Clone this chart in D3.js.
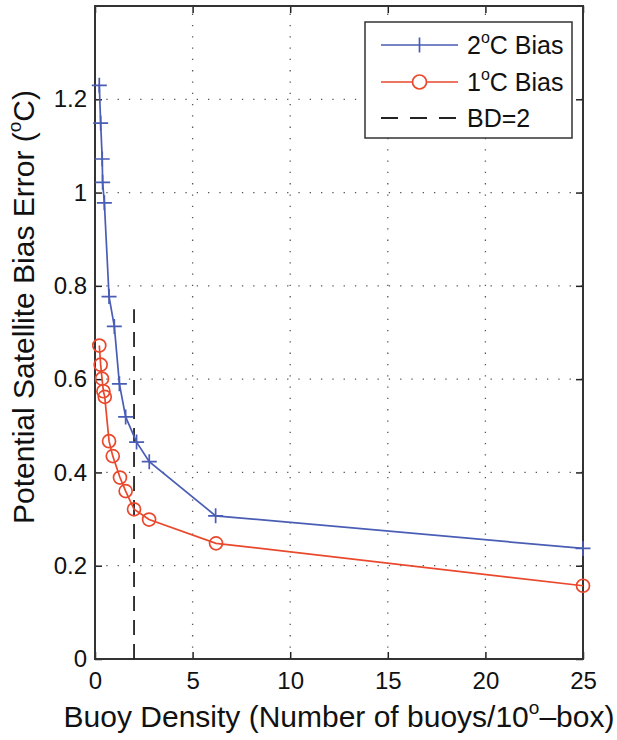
<!DOCTYPE html>
<html><head><meta charset="utf-8">
<script src="https://cdn.jsdelivr.net/npm/d3@7"></script>
<style>
body{margin:0;background:#fff;}
svg{display:block;font-family:"Liberation Sans",Arial,Helvetica,sans-serif;}
</style></head>
<body><svg id="c" width="617" height="740"></svg>
<script>
const xTicks=[0,5,10,15,20,25];
const yTicks=[0,0.2,0.4,0.6,0.8,1,1.2];
const bias2X=[0.22,0.29,0.37,0.39,0.48,0.72,0.99,1.25,1.57,2.13,2.78,6.18,25];
const bias2Y=[1.23,1.149,1.072,1.022,0.978,0.777,0.713,0.590,0.519,0.465,0.423,0.307,0.237];
const bias1X=[0.22,0.29,0.36,0.43,0.50,0.72,0.91,1.28,1.57,2.0,2.77,6.2,25];
const bias1Y=[0.672,0.631,0.601,0.574,0.562,0.467,0.435,0.389,0.360,0.321,0.299,0.248,0.157];
const bdX=[2,2];
const bdY=[0,0.75];
const seriesNames=["2","1","BD=2"];

const svg=d3.select("#c");
const L=95,R=583,T=6,B=659;
const x=d3.scaleLinear().domain([0,25]).range([L,R]);
const y=d3.scaleLinear().domain([0,1.4]).range([B,T]);
const blue="#4a5db5", red="#e9482c";

// grid
const g=svg.append("g");
g.selectAll("line.gx").data(xTicks.filter(v=>v>0&&v<25)).enter().append("line")
 .attr("x1",d=>x(d)).attr("x2",d=>x(d)).attr("y1",B).attr("y2",T)
 .attr("stroke","#555").attr("stroke-width",1.3).attr("stroke-dasharray","1.3,10");
g.selectAll("line.gy").data(yTicks.filter(v=>v>0)).enter().append("line")
 .attr("x1",L).attr("x2",R).attr("y1",d=>y(d)).attr("y2",d=>y(d))
 .attr("stroke","#555").attr("stroke-width",1.3).attr("stroke-dasharray","1.3,10");

// axes
const fs=24;
const ax=svg.append("g").attr("transform",`translate(0,${B})`)
 .call(d3.axisBottom(x).tickValues(xTicks).tickFormat(d3.format("d")).tickSizeInner(-7).tickSizeOuter(0).tickPadding(13));
const ay=svg.append("g").attr("transform",`translate(${L},0)`)
 .call(d3.axisLeft(y).tickValues(yTicks).tickFormat(d=>d===0?"0":(d===1?"1":d3.format(".1f")(d))).tickSizeInner(-7).tickSizeOuter(0).tickPadding(8));
const at=svg.append("g").attr("transform",`translate(0,${T})`)
 .call(d3.axisTop(x).tickValues(xTicks).tickFormat("").tickSizeInner(-7).tickSizeOuter(0));
const ar=svg.append("g").attr("transform",`translate(${R},0)`)
 .call(d3.axisRight(y).tickValues(yTicks).tickFormat("").tickSizeInner(-7).tickSizeOuter(0));
[ax,ay,at,ar].forEach(a=>{
 a.select(".domain").remove();
 a.selectAll(".tick line").attr("stroke","#222").attr("stroke-width",1.5);
 a.selectAll("text").attr("font-size",fs).attr("fill","#111").attr("font-family","Liberation Sans, Arial, sans-serif");
});
svg.append("rect").attr("x",L).attr("y",T).attr("width",R-L).attr("height",B-T)
 .attr("fill","none").attr("stroke","#333").attr("stroke-width",2);

// dashed BD=2
svg.append("line").attr("x1",x(bdX[0])).attr("x2",x(bdX[1])).attr("y1",y(bdY[0])).attr("y2",y(bdY[1]))
 .attr("stroke","#222").attr("stroke-width",1.8).attr("stroke-dasharray","15,9");

// series
const line=d3.line().x(d=>x(d[0])).y(d=>y(d[1]));
const d2=bias2X.map((v,i)=>[v,bias2Y[i]]);
const d1=bias1X.map((v,i)=>[v,bias1Y[i]]);
svg.append("path").datum(d2).attr("d",line).attr("fill","none").attr("stroke",blue).attr("stroke-width",1.7);
svg.append("path").datum(d1).attr("d",line).attr("fill","none").attr("stroke",red).attr("stroke-width",1.7);
const ms=7.5;
svg.selectAll("path.plus").data(d2).enter().append("path")
 .attr("d",d=>`M${x(d[0])-ms},${y(d[1])}H${x(d[0])+ms}M${x(d[0])},${y(d[1])-ms}V${y(d[1])+ms}`)
 .attr("stroke",blue).attr("stroke-width",1.7).attr("fill","none");
svg.selectAll("circle.o").data(d1).enter().append("circle")
 .attr("cx",d=>x(d[0])).attr("cy",d=>y(d[1])).attr("r",6.5)
 .attr("fill","none").attr("stroke",red).attr("stroke-width",1.7);

// legend
const lg=svg.append("g");
lg.append("rect").attr("x",365).attr("y",22).attr("width",207).attr("height",116)
 .attr("fill","#fff").attr("stroke","#333").attr("stroke-width",1.5);
const rows=[45,82,118];
const lx1=381,lx2=458,lxm=(lx1+lx2)/2;
lg.append("line").attr("x1",lx1).attr("x2",lx2).attr("y1",rows[0]).attr("y2",rows[0]).attr("stroke",blue).attr("stroke-width",1.7);
lg.append("path").attr("d",`M${lxm},${rows[0]-ms}V${rows[0]+ms}`).attr("stroke",blue).attr("stroke-width",1.7);
lg.append("line").attr("x1",lx1).attr("x2",lx2).attr("y1",rows[1]).attr("y2",rows[1]).attr("stroke",red).attr("stroke-width",1.7);
lg.append("circle").attr("cx",lxm).attr("cy",rows[1]).attr("r",7).attr("fill","#fff").attr("stroke",red).attr("stroke-width",1.7);
lg.append("line").attr("x1",lx1).attr("x2",lx2).attr("y1",rows[2]).attr("y2",rows[2]).attr("stroke","#222").attr("stroke-width",1.8).attr("stroke-dasharray","17,12");
const lfs=25;
[0,1].forEach(i=>{
 const t=lg.append("text").attr("x",467).attr("y",rows[i]+9).attr("font-size",lfs).attr("fill","#111");
 t.append("tspan").text(seriesNames[i]);
 t.append("tspan").attr("font-size",16).attr("dy",-11).text("o");
 t.append("tspan").attr("dy",11).text("C Bias");
});
lg.append("text").attr("x",467).attr("y",rows[2]+9).attr("font-size",lfs).attr("fill","#111").text(seriesNames[2]);

// axis labels
const xl=svg.append("text").attr("x",339).attr("y",727).attr("text-anchor","middle").attr("font-size",30).attr("fill","#111");
xl.append("tspan").text("Buoy Density (Number of buoys/10");
xl.append("tspan").attr("font-size",19).attr("dy",-13).text("o");
xl.append("tspan").attr("dy",13).text("\u2013box)");
const yl=svg.append("text").attr("transform","translate(34,307) rotate(-90)").attr("text-anchor","middle").attr("font-size",30).attr("fill","#111");
yl.append("tspan").text("Potential Satellite Bias Error (");
yl.append("tspan").attr("font-size",19).attr("dy",-13).text("o");
yl.append("tspan").attr("dy",13).text("C)");
</script></body></html>
